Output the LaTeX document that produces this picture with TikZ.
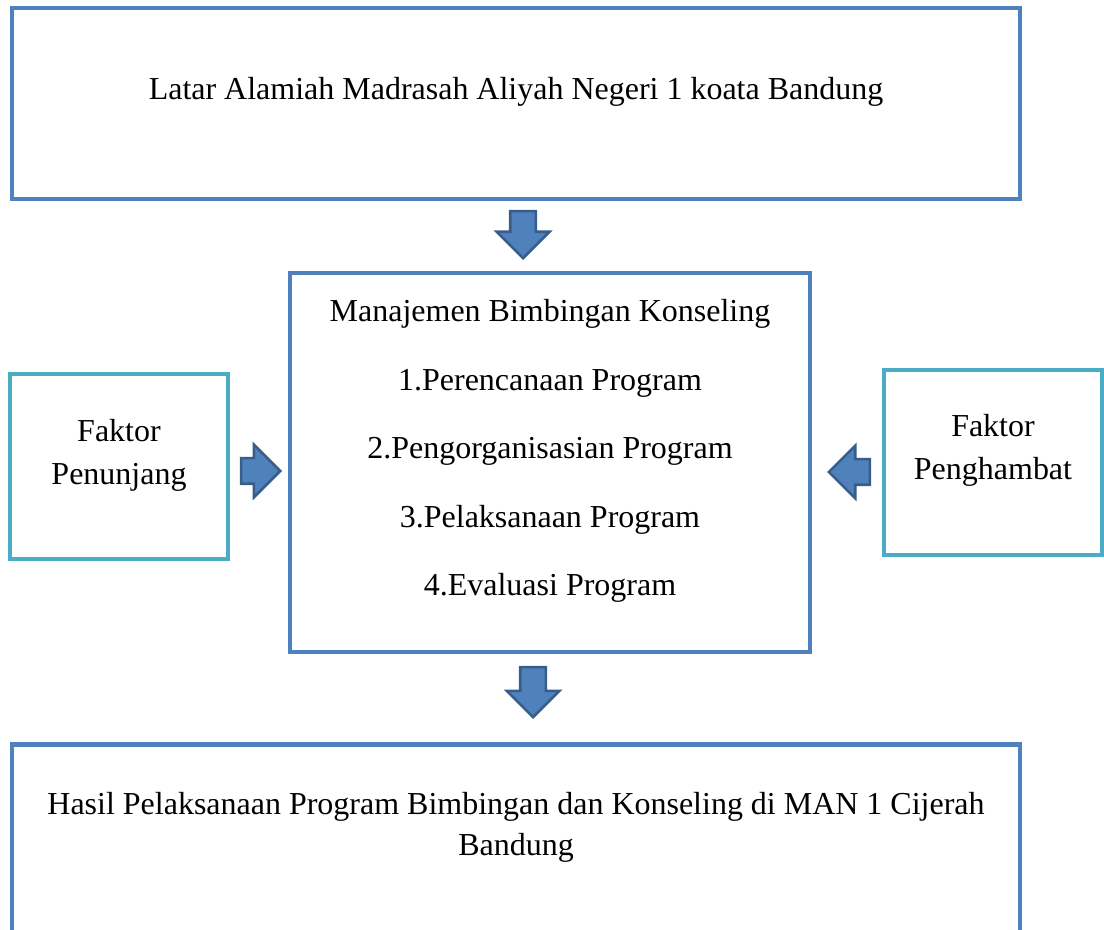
\documentclass[tikz,border=0pt]{standalone}
\usepackage{fontspec}
\setmainfont{Liberation Serif}
\usepackage{xcolor}
\usepackage{tikz}
\usetikzlibrary{shapes.arrows,positioning}
\definecolor{officeblue}{RGB}{79, 129, 189}
\definecolor{officeteal}{RGB}{75, 172, 198}
\definecolor{arrowedge}{RGB}{56, 93, 138}
\tikzset{
  mainbox/.style={
    draw=officeblue,
    line width=2.8pt,
    fill=white,
    inner sep=0pt
  },
  sidebox/.style={
    draw=officeteal,
    line width=2.8pt,
    fill=white,
    inner sep=0pt
  },
  boxtext/.style={
    align=center,
    font=\fontsize{18.2}{24.5}\selectfont
  },
  blockarrow/.style={
    single arrow,
    draw=arrowedge,
    fill=officeblue,
    line width=1.5pt,
    inner xsep=0pt,
    inner ysep=0.23cm,
    single arrow head extend=0.27cm,
    anchor=tip
  }
}

\begin{document}
\begin{tikzpicture}
  \useasboundingbox (0,0) rectangle (22.08,18.58);

  \node[mainbox, minimum width=20.16cm, minimum height=3.82cm] (setting) at (10.32,16.51) {};
  \node[boxtext] (settingtext) at (10.32,16.74) {Latar Alamiah Madrasah Aliyah Negeri 1 koata Bandung};

  \node[mainbox, minimum width=10.4cm, minimum height=7.58cm] (manage) at (11.0,9.33) {};
  \node[boxtext, font=\fontsize{18.2}{39}\selectfont] (managetext) at (11.0,9.56)
    {Manajemen Bimbingan Konseling\\1.Perencanaan Program\\2.Pengorganisasian Program\\3.Pelaksanaan Program\\4.Evaluasi Program};

  \node[sidebox, minimum width=4.36cm, minimum height=3.7cm] (support) at (2.38,9.25) {};
  \node[boxtext] (supporttext) at (2.38,9.48) {Faktor\\Penunjang};

  \node[sidebox, minimum width=4.36cm, minimum height=3.7cm] (barrier) at (19.86,9.33) {};
  \node[boxtext] (barriertext) at (19.86,9.57) {Faktor\\Penghambat};

  \node[mainbox, minimum width=20.16cm, minimum height=5cm, anchor=north] (result) at (10.32,3.74) {};
  \node[boxtext, font=\fontsize{18.2}{23.5}\selectfont] (resulttext) at (10.32,2.04)
    {Hasil Pelaksanaan Program Bimbingan dan Konseling di MAN 1 Cijerah\\Bandung};

  % block arrows between the boxes
  \node[blockarrow, minimum height=0.94cm, rotate=-90] (down1) at (10.46,13.38) {};
  \node[blockarrow, minimum height=1.0cm, rotate=-90] (down2) at (10.66,4.2) {};
  \node[blockarrow, minimum height=0.78cm] (right1) at (5.64,9.16) {};
  \node[blockarrow, minimum height=0.82cm, rotate=180] (left1) at (16.54,9.14) {};
\end{tikzpicture}
\end{document}
